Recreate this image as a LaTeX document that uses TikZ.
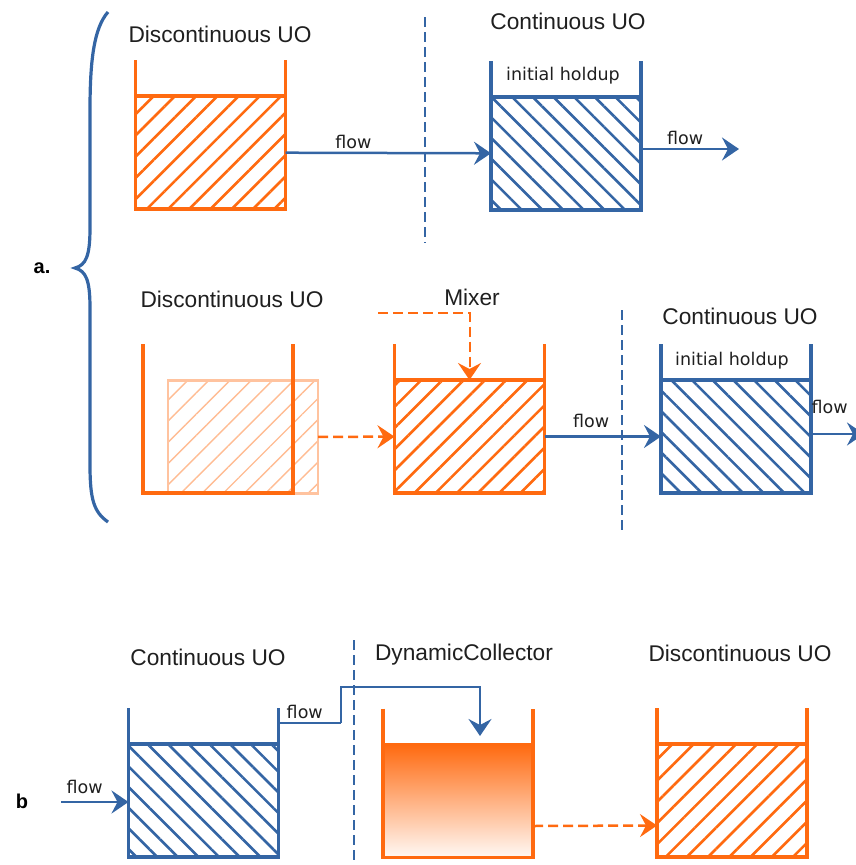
\documentclass[tikz,border=0pt]{standalone}
\usepackage{fontspec}
\setmainfont{Liberation Sans}
\newfontfamily\labelfont{DejaVu Sans}
\usetikzlibrary{arrows.meta, positioning, patterns.meta}
\definecolor{uoorange}{RGB}{255,106,16}
\definecolor{uoblue}{RGB}{52,101,164}
\tikzstyle{tank} = [draw, rectangle, line width=3.5pt, minimum width=150pt, minimum height=113pt, inner sep=0pt, outer sep=0pt]
\tikzstyle{batch} = [tank, uoorange, pattern={Lines[angle=45,distance=15pt,line width=2.6pt]}, pattern color=uoorange]
\tikzstyle{cont} = [tank, uoblue, pattern={Lines[angle=-45,distance=14.6pt,line width=2.6pt]}, pattern color=uoblue]
\tikzstyle{title} = [font=\fontsize{22.7}{26}\selectfont, text=black!88]
\tikzstyle{small} = [font=\labelfont\fontsize{17.5}{20}\selectfont, text=black!88]
\tikzstyle{flow} = [uoblue, line width=2.5pt, ->]
\tikzstyle{transfer} = [uoorange, line width=2.5pt, dash pattern=on 10pt off 5pt, ->]
\tikzstyle{divide} = [uoblue, line width=2.5pt, dash pattern=on 10pt off 5pt]
% open-topped vessel round a tank node
\newcommand{\walls}[2]{\draw[#2, line width=3.5pt] ([yshift=36pt]#1.north west) -- (#1.south west) -- (#1.south east) -- ([yshift=36pt]#1.north east);}

\begin{document}
\begin{tikzpicture}[x=1pt, y=-1pt, >={Stealth[length=17pt,width=23pt,inset=6pt]}]
  \useasboundingbox (0,0) rectangle (856,865);

  % a. brace
  \draw[uoblue, line width=3.2pt] (108,12) .. controls (94,28) and (90,60) .. (90,110) -- (90,228)
    .. controls (90,256) and (86,265) .. (75,268) .. controls (86,271) and (90,280) .. (90,308)
    -- (90,465) .. controls (90,500) and (94,512) .. (108,522);
  \node[font=\bfseries\fontsize{20}{24}\selectfont] (lbla) at (42,268) {a.};

  % first row: discontinuous -> continuous
  \node[batch] (dis1) at (210.5,152.5) {};
  \walls{dis1}{uoorange}
  \node[title] (tdis1) at (220,34) {Discontinuous UO};
  \node[cont] (con1) at (566,153.5) {};
  \walls{con1}{uoblue}
  \node[title] (tcon1) at (568,21) {Continuous UO};
  \node[small] (hold1) at (563,76) {initial holdup};
  \draw[divide] (425,17) -- (425,243);
  \draw[flow] (dis1) -- (con1) node[small, above, pos=0.33] (f1) {flow};
  \coordinate (out1) at (739,149);
  \draw[flow] (con1.east |- out1) -- (out1) node[small, above, pos=0.45] (f2) {flow};

  % second row: discontinuous -> mixer -> continuous
  \node[tank, draw=uoorange!40, line width=2.2pt, pattern={Lines[angle=45,distance=15pt,line width=1.4pt]}, pattern color=uoorange!45] (dis2c) at (243,437) {};
  \node[minimum width=150pt, minimum height=113pt, inner sep=0pt, outer sep=0pt] (dis2) at (218,436.5) {};
  \walls{dis2}{uoorange}
  \node[title] (tdis2) at (232,299) {Discontinuous UO};
  \node[batch] (mix) at (469.5,436.5) {};
  \walls{mix}{uoorange}
  \node[title] (tmix) at (472,297) {Mixer};
  \coordinate (mxin) at (378,313);
  \draw[transfer, line width=2pt] (mxin) -| (mix.north);
  \draw[transfer] (dis2c) -- (mix);
  \node[cont] (con2) at (736,436.5) {};
  \walls{con2}{uoblue}
  \node[title] (tcon2) at (740,316) {Continuous UO};
  \node[small] (hold2) at (732,361) {initial holdup};
  \draw[divide] (622,310) -- (622,533);
  \draw[flow] (mix) -- (con2) node[small, above=4pt, pos=0.4] (f3) {flow};
  \coordinate (out2) at (864,434);
  \draw[flow] (con2.east |- out2) -- (out2) node[small, above=16pt, pos=0.35] (f4) {flow};

  % b. continuous -> collector -> discontinuous
  \node[font=\bfseries\fontsize{20}{24}\selectfont] (lblb) at (22,801) {b};
  \node[cont] (con3) at (203.5,800.5) {};
  \walls{con3}{uoblue}
  \node[title] (tcon3) at (208,657) {Continuous UO};
  \coordinate (in3) at (61,802);
  \draw[flow] (in3) -- (in3 -| con3.west) node[small, above=4pt, pos=0.35] (f5) {flow};
  \node[tank, draw=uoorange, top color=uoorange, middle color=uoorange!62, bottom color=uoorange!4] (coll) at (458,801) {};
  \walls{coll}{uoorange}
  \node[title] (tcoll) at (464,655) {DynamicCollector};
  \draw[divide] (354,640) -- (354,865);
  \coordinate (up1) at (341,723);
  \coordinate (up2) at (480,687);
  \coordinate (drop) at (480,736);
  \draw[uoblue, line width=1.2pt] ([yshift=21pt]con3.north east) -- (up1) node[small, above, pos=0.42] (f6) {flow};
  \draw[flow] (up1) |- (up2) -- (drop);
  \node[batch] (dis3) at (732,800.5) {};
  \walls{dis3}{uoorange}
  \node[title] (tdis3) at (740,653) {Discontinuous UO};
  \draw[transfer] ([yshift=-25pt]coll.east) -- ([yshift=-25pt]dis3.west);
\end{tikzpicture}
\end{document}
